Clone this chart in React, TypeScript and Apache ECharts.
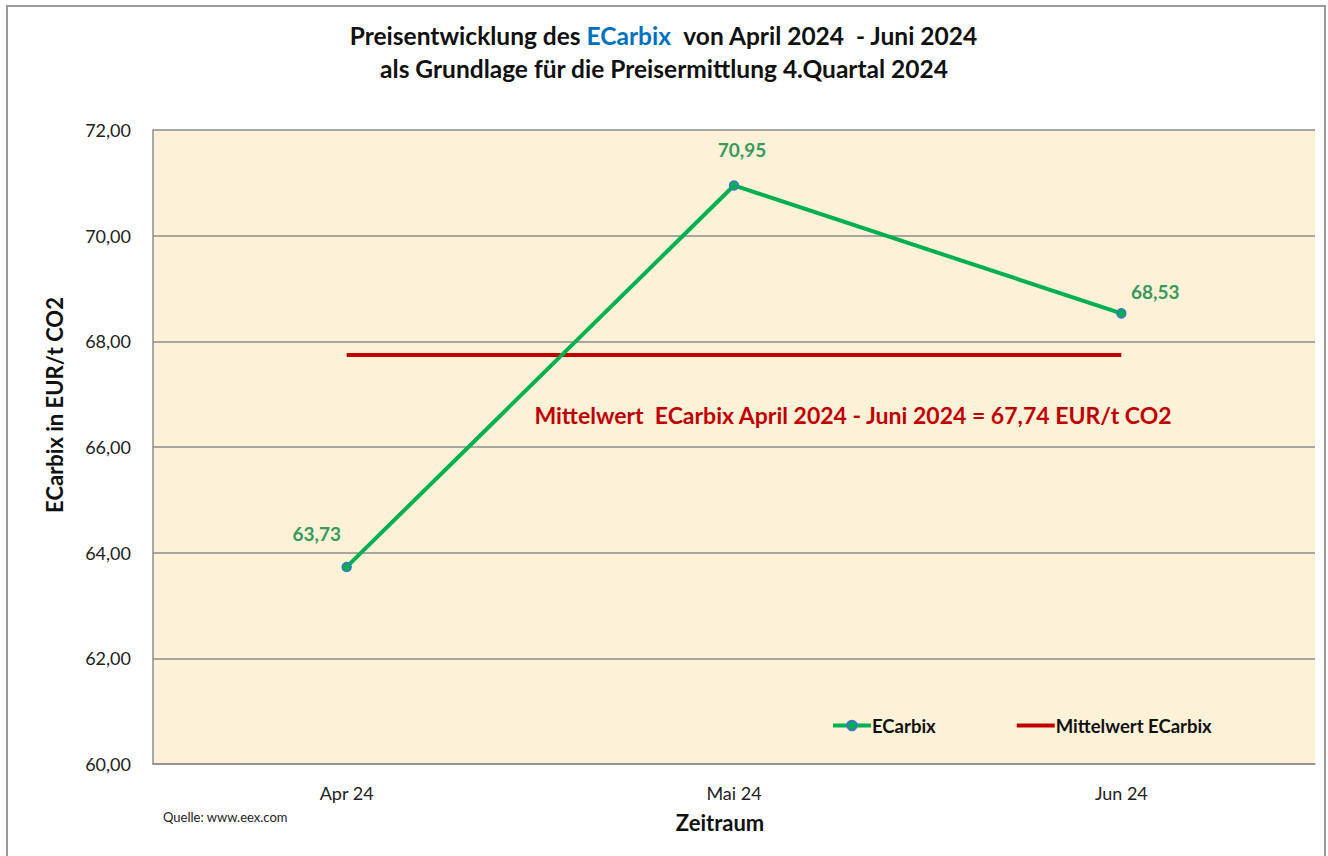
import React, { useEffect, useRef } from "react";
import * as echarts from "echarts";

const categories = ["Apr 24", "Mai 24", "Jun 24"];
const ecarbixValues = [63.73, 70.95, 68.53];
const meanValue = 67.74;
const meanValues = [meanValue, meanValue, meanValue];
const yTicks = { min: 60, max: 72, interval: 2 };

const FONT = "Lato, 'Open Sans', sans-serif";
const fmt = (v: number) => v.toFixed(2).replace(".", ",");

export default function App() {
  const ref = useRef<HTMLDivElement>(null);
  useEffect(() => {
    document.body.style.margin = "0";
    const chart = echarts.init(ref.current!, null, { renderer: "svg" });
    const labelPos: any[] = [
      { position: "top", offset: [-30, -14] },
      { position: "top", offset: [8, -16] },
      { position: "top", offset: [34, -2] },
    ];
    chart.setOption({
      animation: false,
      backgroundColor: "#ffffff",
      textStyle: { fontFamily: FONT },
      title: {
        text: "Preisentwicklung des {b|ECarbix}  von April 2024  - Juni 2024\nals Grundlage für die Preisermittlung 4.Quartal 2024",
        left: "center",
        top: 14,
        textStyle: {
          fontFamily: FONT,
          fontSize: 24.5,
          fontWeight: "bold",
          color: "#111",
          lineHeight: 33,
          rich: {
            b: { fontFamily: FONT, fontSize: 24.5, fontWeight: "bold", color: "#0070c0", lineHeight: 33 },
          },
        },
      },
      legend: {
        left: 831,
        top: 716,
        padding: 0,
        itemGap: 81,
        itemWidth: 38,
        itemHeight: 12,
        lineStyle: { width: 4 },
        textStyle: { fontFamily: FONT, fontSize: 18.5, fontWeight: "bold", color: "#111", padding: [0, 0, 0, -4] },
        data: [
          "ECarbix",
          { name: "Mittelwert ECarbix", icon: "path://M0,0H38V0.05H0Z M0,4H38V8H0Z M0,11.95H38V12H0Z" },
        ],
      },
      grid: {
        left: 153,
        top: 130,
        right: 13,
        bottom: 92,
        show: true,
        backgroundColor: "#fdf1d8",
        borderWidth: 0,
      },
      xAxis: {
        type: "category",
        data: categories,
        boundaryGap: true,
        name: "Zeitraum",
        nameLocation: "middle",
        nameGap: 47,
        nameTextStyle: { fontFamily: FONT, fontSize: 22, fontWeight: "bold", color: "#111", padding: [0, 28, 0, 0] },
        axisLine: { lineStyle: { color: "#8c8c8c", width: 1.5 } },
        axisTick: { show: false },
        axisLabel: { fontFamily: FONT, fontSize: 18, color: "#222", margin: 20 },
      },
      yAxis: {
        type: "value",
        min: yTicks.min,
        max: yTicks.max,
        interval: yTicks.interval,
        name: "ECarbix in EUR/t CO2",
        nameLocation: "middle",
        nameGap: 88,
        nameTextStyle: { fontFamily: FONT, fontSize: 22, fontWeight: "bold", color: "#111", padding: [0, 0, 0, 84] },
        axisLine: { show: true, lineStyle: { color: "#8c8c8c", width: 1.5 } },
        axisTick: { show: false },
        splitLine: { lineStyle: { color: "#8c8c8c", width: 1.5 } },
        axisLabel: { fontFamily: FONT, fontSize: 18, color: "#222", margin: 22, formatter: (v: number) => fmt(v) },
      },
      series: [
        {
          name: "Mittelwert ECarbix",
          type: "line",
          data: meanValues,
          symbol: "none",
          lineStyle: { color: "#c00000", width: 4 },
          itemStyle: { color: "#c00000" },
          z: 2,
        },
        {
          name: "ECarbix",
          type: "line",
          data: ecarbixValues.map((v, i) => ({
            value: v,
            label: {
              show: true,
              ...labelPos[i],
              formatter: () => fmt(v),
              fontFamily: FONT,
              fontSize: 19,
              fontWeight: "bold",
              color: "#3a9a5c",
            },
          })),
          symbol: "circle",
          symbolSize: 9,
          lineStyle: { color: "#00b050", width: 4 },
          itemStyle: { color: "#00b050", borderColor: "#4472c4", borderWidth: 1.5 },
          z: 3,
        },
      ],
    });
    const p = chart.convertToPixel({ gridIndex: 0 }, [categories[1], meanValue]) as number[];
    chart.setOption({
      graphic: [
        {
          type: "rect",
          shape: { x: 7, y: 6, width: 1318, height: 900 },
          style: { fill: "none", stroke: "#9a9a9a", lineWidth: 2 },
          silent: true,
        },
        {
          type: "text",
          left: 163,
          top: 810,
          style: { text: "Quelle: www.eex.com", fontSize: 13, fontFamily: FONT, fill: "#222" },
        },
        {
          type: "text",
          x: p[0] + 119,
          y: p[1] + 60,
          style: {
            text: `Mittelwert  ECarbix April 2024 - Juni 2024 = ${fmt(meanValue)} EUR/t CO2`,
            fontFamily: FONT,
            fontSize: 23,
            fontWeight: "bold",
            fill: "#c00000",
            align: "center",
            verticalAlign: "middle",
          },
        },
      ],
    });
    return () => chart.dispose();
  }, []);
  return <div ref={ref} style={{ width: 1328, height: 856 }} />;
}
